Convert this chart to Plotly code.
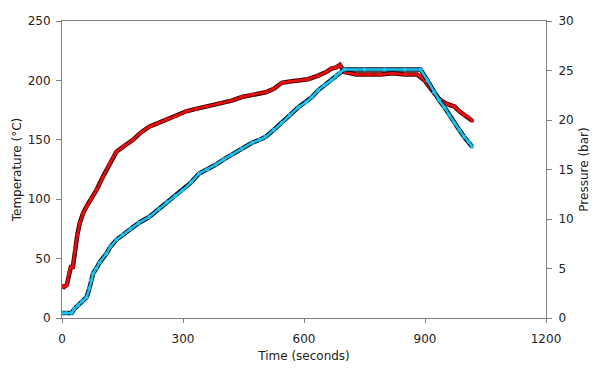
import plotly.graph_objects as go

# Temperature (left axis, °C)
temp_time = [0, 5, 12, 17, 22, 27, 32, 38, 44, 52, 61, 72, 86, 100, 118, 135, 155, 176, 195, 216,
             238, 258, 283, 308, 332, 357, 390, 421, 446, 471, 505, 525, 545, 565, 586, 610, 635,
             655, 668, 680, 689, 700, 730, 760, 790, 820, 850, 880, 889, 899, 912, 923, 939, 956,
             973, 985, 997, 1008, 1017]
temp_vals = [27, 26, 28, 38, 43, 43, 58, 70, 80, 88, 94, 100, 108, 118, 130, 140, 145, 150, 156, 161,
             164, 167, 170, 174, 176, 178, 181, 183, 186, 188, 190, 193, 198, 199, 200, 201, 204,
             207, 210, 211, 213, 207, 205, 205, 205, 206, 205, 205, 203, 200, 194, 189, 183, 180,
             178, 174, 171, 169, 166]

# Pressure (right axis, bar)
pres_time = [0, 10, 24, 30, 40, 50, 61, 68, 72, 77, 85, 93, 110, 120, 135, 150, 170, 190, 216, 240,
             260, 280, 299, 320, 340, 360, 382, 400, 421, 446, 471, 490, 505, 525, 545, 565, 586,
             605, 619, 635, 650, 668, 680, 689, 700, 750, 800, 850, 889, 906, 923, 935, 948, 960,
             973, 985, 997, 1008, 1017]
pres_vals = [0.5, 0.5, 0.5, 0.9, 1.3, 1.7, 2.1, 3.0, 3.8, 4.5, 5.0, 5.6, 6.5, 7.2, 7.9, 8.4, 9.0, 9.6,
             10.2, 11.0, 11.7, 12.3, 12.9, 13.7, 14.6, 15.0, 15.5, 16.0, 16.5, 17.1, 17.7, 18.0, 18.3,
             19.0, 19.7, 20.5, 21.3, 21.8, 22.3, 23.0, 23.5, 24.0, 24.5, 24.8, 25.1, 25.1, 25.1, 25.1,
             25.1, 24.0, 22.8, 22.0, 21.3, 20.5, 19.7, 19.0, 18.3, 17.8, 17.3]

x_ticks = [0, 300, 600, 900, 1200]
left_ticks = [0, 50, 100, 150, 200, 250]
right_ticks = [0, 5, 10, 15, 20, 25, 30]

RED = "#e60f0f"
BLUE = "#1ec0ee"
FONT = "DejaVu Sans"

fig = go.Figure()

# dark outlines
fig.add_trace(go.Scatter(x=temp_time, y=temp_vals, mode="lines", yaxis="y",
                         line=dict(color="#400000", width=4.5), hoverinfo="skip", showlegend=False))
fig.add_trace(go.Scatter(x=temp_time, y=temp_vals, mode="lines+markers", yaxis="y",
                         line=dict(color=RED, width=2.5), marker=dict(color=RED, size=4),
                         showlegend=False, name="Temperature"))
fig.add_trace(go.Scatter(x=pres_time, y=pres_vals, mode="lines", yaxis="y2",
                         line=dict(color="#001820", width=4.5), hoverinfo="skip", showlegend=False))
fig.add_trace(go.Scatter(x=pres_time, y=pres_vals, mode="lines+markers", yaxis="y2",
                         line=dict(color=BLUE, width=2.5), marker=dict(color=BLUE, size=4),
                         showlegend=False, name="Pressure"))

axis_col = "#7f7f7f"
fig.update_layout(
    width=600, height=377,
    margin=dict(l=62, r=51, t=21, b=59),
    paper_bgcolor="white", plot_bgcolor="white",
    font=dict(family=FONT, size=12, color="#222222"),
    xaxis=dict(range=[0, 1200], tickvals=x_ticks, showgrid=False, zeroline=False,
               showline=True, linecolor=axis_col, linewidth=1, mirror=True,
               ticks="outside", ticklen=4, tickcolor=axis_col, ticklabelstandoff=6,
               title=dict(text="Time (seconds)", standoff=6, font=dict(size=12))),
    yaxis=dict(range=[0, 250], tickvals=left_ticks, showgrid=False, zeroline=False,
               showline=True, linecolor=axis_col, linewidth=1,
               ticks="outside", ticklen=5, tickcolor=axis_col, ticklabelstandoff=3,
               title=dict(text="Temperature (°C)", standoff=3, font=dict(size=12))),
    yaxis2=dict(range=[0, 30], tickvals=right_ticks, overlaying="y", side="right",
                showgrid=False, zeroline=False,
                showline=True, linecolor=axis_col, linewidth=1,
                ticks="outside", ticklen=5, tickcolor=axis_col, ticklabelstandoff=4,
                title=dict(text="Pressure (bar)", standoff=6, font=dict(size=12))),
)

fig.write_html("out.html", config={"displayModeBar": False},
               post_script="document.body.style.margin='0';")
